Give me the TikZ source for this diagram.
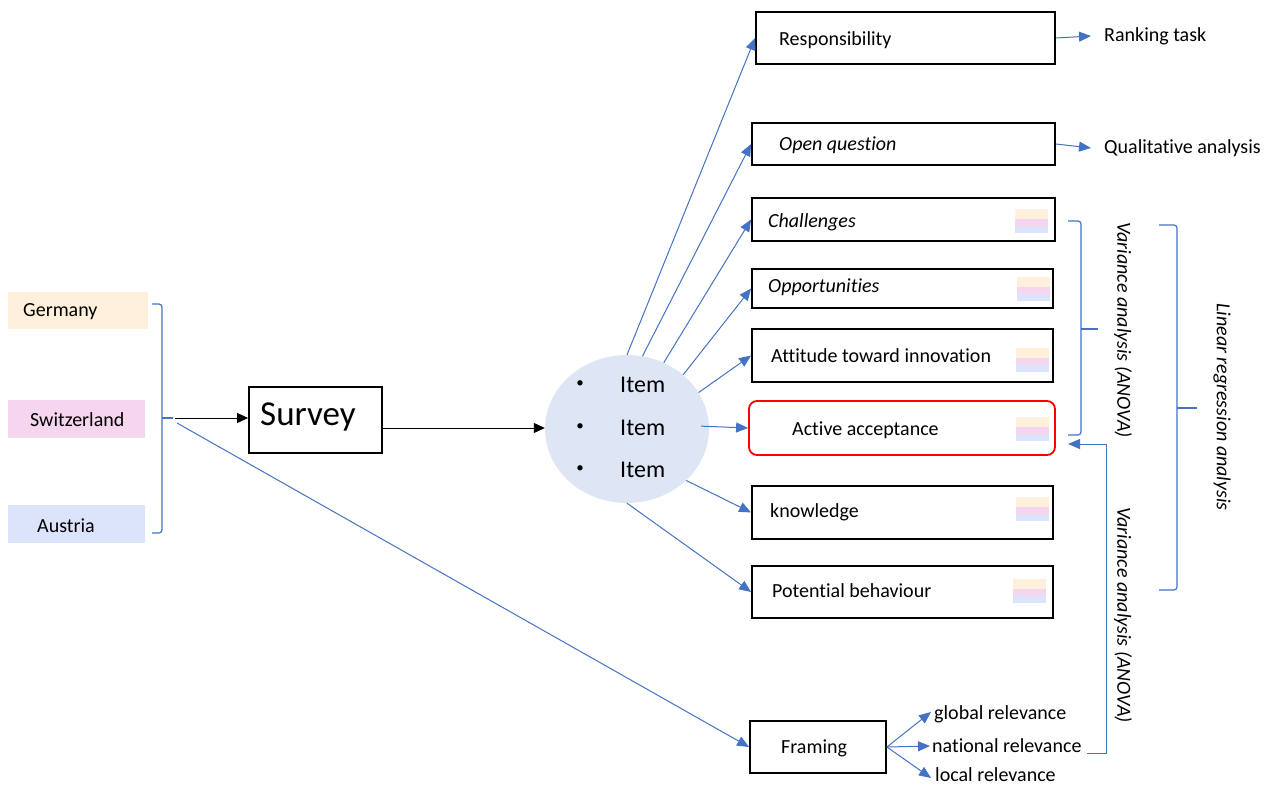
\documentclass[tikz,border=0pt]{standalone}
\usepackage{fontspec}
\setmainfont{Carlito}[Ligatures={NoCommon}]
\usetikzlibrary{shapes.geometric,arrows.meta}
\definecolor{lblue}{HTML}{4472C4}
\definecolor{cGer}{HTML}{FEF0DB}
\definecolor{cSwi}{HTML}{F6D5EE}
\definecolor{cAut}{HTML}{DCE4FC}
\definecolor{cEll}{HTML}{DEE6F5}
\newcommand\myswatch[2]{%
  \fill[cGer] (#1,#2) rectangle ++(33,10);
  \fill[cSwi] (#1,#2+10) rectangle ++(33,7);
  \fill[cAut] (#1,#2+17) rectangle ++(33,7);}
\newcommand\myti{t\kern0pt i}
\begin{document}
\begin{tikzpicture}[x=1pt,y=-1pt,
  txt/.style={font=\fontsize{20}{24}\selectfont, inner sep=0pt, anchor=west},
  itxt/.style={font=\fontsize{20}{24}\selectfont\itshape, inner sep=0pt, anchor=west},
  box/.style={draw=black, line width=1.8pt, inner sep=0pt},
  country/.style={inner sep=0pt},
  barr/.style={draw=lblue, line width=1pt, -{Triangle[length=12pt,width=10pt]}},
  karr/.style={draw=black, line width=1pt, -{Triangle[length=11pt,width=10pt]}},
  brace/.style={draw=lblue, line width=1.2pt, rounded corners=3pt},
]
\useasboundingbox (0,0) rectangle (1272,787);

% countries
\node[country, fill=cGer, minimum width=140, minimum height=37] (ger) at (78,310.5) {};
\node[country, fill=cSwi, minimum width=137, minimum height=38] (swi) at (76.5,419) {};
\node[country, fill=cAut, minimum width=137, minimum height=38] (aut) at (76.5,524) {};
\node[txt] (tger) at (23,312) {Germany};
\node[txt] (tswi) at (30,420) {Switzerland};
\node[txt] (taut) at (37,526) {Austria};

% left brace
\draw[brace] (152,304) -- (162,304) -- (162,533) -- (152,533);
\draw[brace] (162,418) -- (173,418);
\coordinate (lb) at (175,418);
\coordinate (lb2) at (177,423);

% survey
\node[box, minimum width=133, minimum height=66] (survey) at (315.5,420) {};
\node[font=\fontsize{35}{42}\selectfont, inner sep=0pt, anchor=west] (tsurvey) at (260,417) {Survey};
\draw[karr] (lb) -- (survey.west |- lb);

% ellipse
\node[ellipse, fill=cEll, minimum width=164, minimum height=148, inner sep=0pt] (ell) at (627,429) {};
\draw[karr] (survey.east |- 0,428) -- (ell.west |- 0,428);
\foreach \y/\n in {385/a,428/b,470/c}{
  \node[font=\fontsize{15}{18}\selectfont, inner sep=0pt] (bul\n) at (580,\y-1) {•};
  \node[font=\fontsize{24}{28}\selectfont, inner sep=0pt, anchor=west] (item\n) at (620,\y) {Item};
}

% right boxes
\node[box, minimum width=299, minimum height=52] (resp) at (905.5,38) {};
\node[txt] (tresp) at (779,40) {Responsibility};
\node[box, minimum width=303, minimum height=42] (open) at (903.5,144) {};
\node[itxt] (topen) at (779,145) {Open question};
\node[box, minimum width=303, minimum height=43] (chal) at (903.5,219.5) {};
\node[itxt] (tchal) at (768,222) {Challenges};
\node[box, minimum width=301, minimum height=39] (opp) at (902.5,288.5) {};
\node[itxt] (topp) at (768,287) {Opportuni\myti es};
\node[box, minimum width=301, minimum height=53] (att) at (902.5,355.5) {};
\node[txt] (tatt) at (771,356) {At\myti tude toward innova\myti on};
\node[draw=red, line width=1.8pt, rounded corners=8pt, inner sep=0pt, minimum width=306, minimum height=54] (act) at (902,428) {};
\node[txt] (tact) at (792,430) {Ac\myti ve acceptance};
\node[box, minimum width=301, minimum height=53] (know) at (902.5,512.5) {};
\node[txt] (tknow) at (770,512) {knowledge};
\node[box, minimum width=301, minimum height=52] (pot) at (902.5,592) {};
\node[txt] (tpot) at (772,591) {Poten\myti al behaviour};
\node[box, minimum width=136, minimum height=52] (fram) at (818,747) {};
\node[txt] (tfram) at (781,748) {Framing};

% swatches
\myswatch{1015}{209}
\myswatch{1017}{277}
\myswatch{1016}{348}
\myswatch{1016}{417}
\myswatch{1016}{497}
\myswatch{1013}{579}

% ellipse arrows
\draw[barr] (ell.90) -- (resp.west);
\draw[barr] (ell.78) -- (open.west);
\draw[barr] (ell.61) -- (chal.west);
\draw[barr] (ell.44) -- (opp.west);
\draw[barr] (ell.27) -- (att.west);
\draw[barr] ([xshift=-8pt]ell.2) -- (act.west);
\draw[barr] (ell.-41) -- (know.west);
\draw[barr] (ell.-90) -- (pot.west);
\draw[barr] (lb2) -- (fram.west);

% outcomes
\node[txt] (rank) at (1104,36) {Ranking task};
\node[txt] (qual) at (1104,148) {Qualita\myti ve analysis};
\draw[barr] (resp.east) -- ([xshift=-13pt]rank.west);
\draw[barr] (open.east) -- ([xshift=-13pt]qual.west);

% framing
\node[txt] (glob) at (934,714) {global relevance};
\node[txt] (nat) at (932,746) {national relevance};
\node[txt] (loc) at (935,775) {local relevance};
\draw[barr] (fram.east) -- ([xshift=-3pt,yshift=2pt]glob.west);
\draw[barr] (fram.east) -- ([xshift=-2pt]nat.west);
\draw[barr] (fram.east) -- ([xshift=-4pt,yshift=-3pt]loc.west);

% braces right
\draw[brace] (1068,221) -- (1081,221) -- (1081,435) -- (1068,435);
\draw[brace] (1081,329) -- (1098,329);
\draw[brace] (1159,225) -- (1177,225) -- (1177,590) -- (1159,590);
\draw[brace] (1177,408) -- (1197,408);

\coordinate (nrend) at (1087,753);
\coordinate (vatip) at (1068,444);
\draw[barr] (nrend) -| (1106,444) -- (vatip);

\node[itxt, rotate=-90, anchor=center] (va1) at (1123,330) {Variance analysis (ANOVA)};
\node[itxt, rotate=-90, anchor=center] (va2) at (1123,615) {Variance analysis (ANOVA)};
\node[itxt, rotate=-90, anchor=center] (lr) at (1222,407) {Linear regression analysis};
\end{tikzpicture}
\end{document}
